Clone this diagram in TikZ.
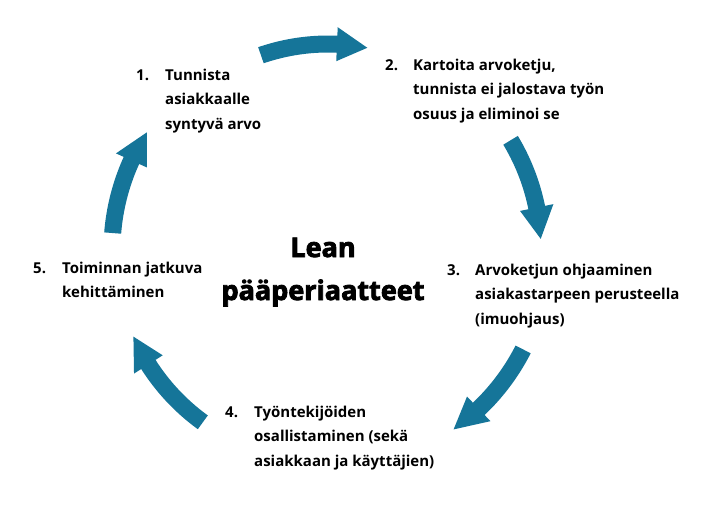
\documentclass[tikz,border=0pt]{standalone}
\usepackage{fontspec}
\setmainfont{Open Sans}
\newfontfamily\titlefont{Open Sans}[BoldFeatures={FakeBold=3}]
\definecolor{cycleblue}{RGB}{21,117,153}
\tikzset{
  arrowfill/.style={fill=cycleblue},
  num/.style={anchor=base west, inner sep=0pt, font=\bfseries\fontsize{15}{24.5}\selectfont},
  lbl/.style={anchor=base west, inner sep=0pt, font=\bfseries\fontsize{15}{24.5}\selectfont},
  ttl/.style={anchor=base, inner sep=0pt, font=\titlefont\bfseries\fontsize{27}{30}\selectfont}
}
\newcommand\lines[1]{\begin{tabular}[t]{@{}l@{}}#1\end{tabular}}
\newcommand\cycarrow[3]{%
  \pgfmathsetmacro\hb{#2-8.5}%
  \fill[arrowfill] plot[domain=#1:\hb,samples=24] ({328+(#3+8.5)*cos(\x)},{250+(#3+8.5)*sin(\x)})
    -- ({328+(#3+17)*cos(\hb)},{250+(#3+17)*sin(\hb)})
    -- ({328+#3*cos(#2)},{250+#3*sin(#2)})
    -- ({328+(#3-17)*cos(\hb)},{250+(#3-17)*sin(\hb)})
    -- plot[domain=\hb:#1,samples=24] ({328+(#3-8.5)*cos(\x)},{250+(#3-8.5)*sin(\x)}) -- cycle;}
\begin{document}
\begin{tikzpicture}[x=1pt,y=-1pt]
\useasboundingbox[fill=white] (0,0) rectangle (702,504);
% arrows
\cycarrow{-109}{-79}{206}
\cycarrow{-31}{-3}{213}
\cycarrow{27}{55}{219}
\cycarrow{126}{156}{213}
\cycarrow{184.5}{213}{216}
% title
\node[ttl] (lean) at (323,257) {Lean};
\node[ttl] (paa) at (323,300) {pääperiaatteet};
% items
\node[num] (n1) at (136,80) {1.};
\node[lbl] (t1) at (165,80) {\lines{Tunnista\\asiakkaalle\\syntyvä arvo}};
\node[num] (n2) at (385,70) {2.};
\node[lbl] (t2) at (413,70) {\lines{Kartoita arvoketju,\\tunnista ei jalostava työn\\osuus ja eliminoi se}};
\node[num] (n3) at (447,275) {3.};
\node[lbl] (t3) at (475,275) {\lines{Arvoketjun ohjaaminen\\asiakastarpeen perusteella\\(imuohjaus)}};
\node[num] (n4) at (225,417) {4.};
\node[lbl] (t4) at (254,417) {\lines{Työntekijöiden\\osallistaminen (sekä\\asiakkaan ja käyttäjien)}};
\node[num] (n5) at (33,273) {5.};
\node[lbl] (t5) at (62,273) {\lines{Toiminnan jatkuva\\kehittäminen}};
\end{tikzpicture}
\end{document}
